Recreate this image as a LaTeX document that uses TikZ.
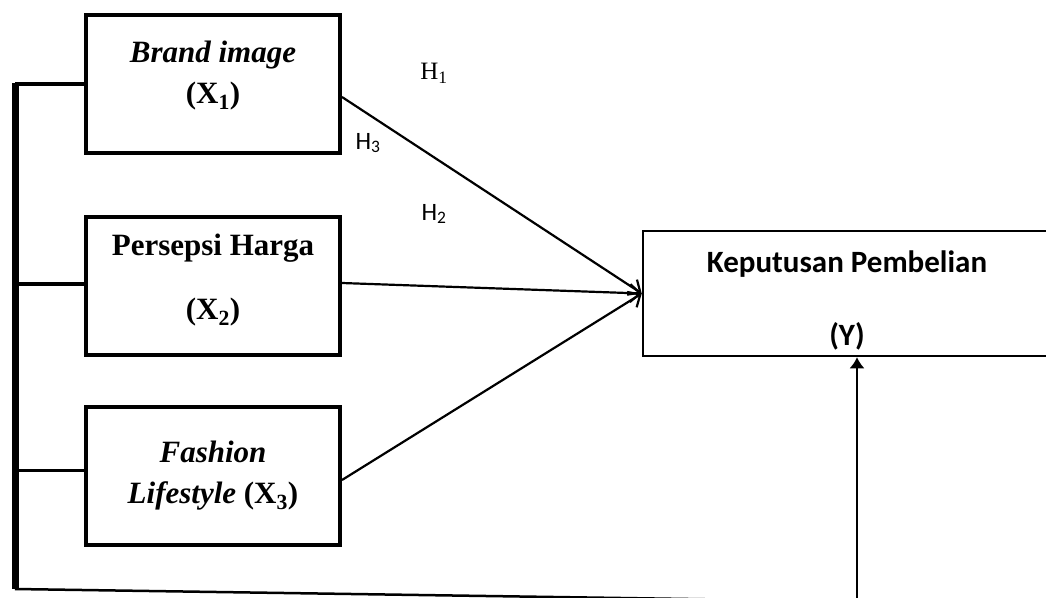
\documentclass[tikz,border=0pt]{standalone}
\usepackage{fontspec}
\setmainfont{Liberation Serif}
\newfontfamily\calibri{Carlito}
\usetikzlibrary{arrows.meta,calc}

\begin{document}
\begin{tikzpicture}[x=1pt, y=-1pt,
  varbox/.style={draw, line width=4pt, minimum width=254pt, minimum height=138pt, inner sep=0pt},
  vartext/.style={align=center, font=\fontsize{31}{41}\selectfont\bfseries},
  link/.style={line width=3.5pt},
  hyp/.style={line width=2.2pt, -{Straight Barb[length=10pt,width=18pt,line width=2.2pt]}},
  hlabel/.style={font=\fontsize{25}{28}\selectfont}]
  \useasboundingbox (0,0) rectangle (1046,597);

  % variable boxes
  \node[varbox] (x1) at (213,84) {};
  \node[varbox] (x2) at (213,286) {};
  \node[varbox] (x3) at (213,475.5) {};
  \node[draw, line width=2.5pt, minimum width=404pt, minimum height=125pt, inner sep=0pt] (kp) at (845,293.5) {};

  \node[vartext] (x1text) at ($(x1.center)+(0,-8)$) {\textit{Brand image}\\(X\textsubscript{1})};
  \node[vartext] (x2text) at ($(x2.center)+(0,-6)$) {Persepsi Harga\\[23pt](X\textsubscript{2})};
  \node[vartext] (x3text) at (x3.center) {\textit{Fashion}\\\textit{Lifestyle} (X\textsubscript{3})};
  \node[align=center, font=\calibri\bfseries\fontsize{31}{73}\selectfont] (kptext) at ($(kp.center)+(2,7)$) {Keputusan Pembelian\\(Y)};

  % bracket on the left
  \coordinate (bartop) at (15,83);
  \coordinate (barbot) at (15,589);
  \coordinate (corner) at (857,601.5);
  \draw[line width=7pt] (bartop) -- (barbot);
  \draw[link] (x1.west) -- (x1.west -| bartop);
  \draw[link] ([yshift=2pt]x2.west) -- ([yshift=2pt]x2.west -| bartop);
  \draw[link] ([yshift=5pt]x3.west) -- ([yshift=5pt]x3.west -| bartop);
  \draw[line width=2.5pt] (barbot) -- (corner);
  \draw[line width=1.8pt, -{Latex[length=11pt,width=15pt]}] (corner) -- (corner |- kp.south);

  % hypotheses
  \draw[hyp] ([yshift=-13pt]x1.east) -- (kp.west);
  \draw[hyp] ([yshift=3pt]x2.east) -- (kp.west);
  \draw[hyp] ([yshift=-4.5pt]x3.east) -- (kp.west);

  \node[hlabel] (h1) at (434,73) {H\textsubscript{1}};
  \node[hlabel, font={\calibri\fontsize{25}{28}\selectfont}] (h3) at (368,143) {H\textsubscript{3}};
  \node[hlabel, font={\calibri\fontsize{25}{28}\selectfont}] (h2) at (434,214) {H\textsubscript{2}};
\end{tikzpicture}
\end{document}
